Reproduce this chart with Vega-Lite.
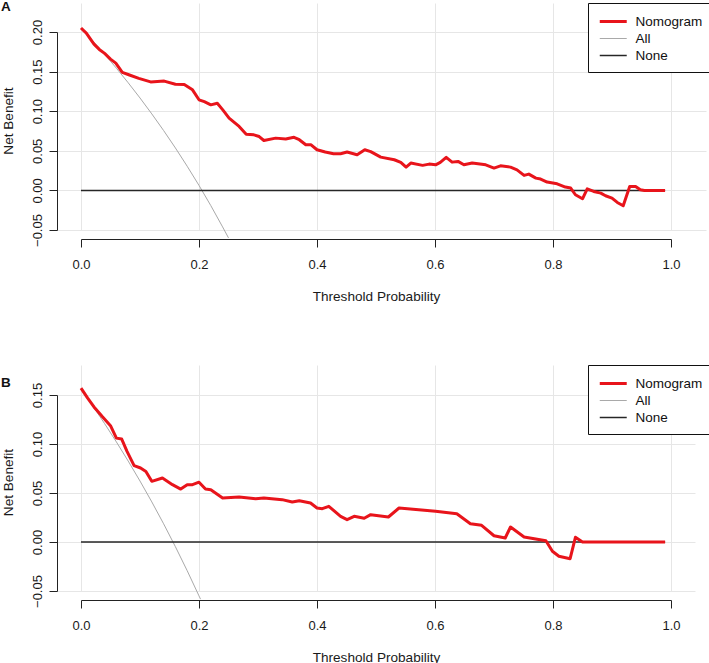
{
  "$schema": "https://vega.github.io/schema/vega-lite/v6.json",
  "padding": {"left": 1, "top": 0, "right": 0, "bottom": 0},
  "bounds": "flush",
  "spacing": 135,
  "resolve": {"scale": {"color": "independent", "strokeWidth": "independent"}, "legend": {"color": "independent", "strokeWidth": "independent"}},
  "config": {
    "view": {"stroke": null},
    "font": "Liberation Sans",
    "axis": {"domainColor": "#222", "tickColor": "#222", "labelColor": "#1a1a1a", "titleColor": "#1a1a1a", "gridColor": "#e6e6e6", "gridWidth": 1, "labelFontSize": 13, "titleFontSize": 13.6, "titleFontWeight": "normal", "tickSize": 8, "labelFont": "Liberation Sans", "titleFont": "Liberation Sans"},
    "legend": {"labelFont": "Liberation Sans", "labelColor": "#111"},
    "title": {"anchor": "start", "frame": "bounds", "fontSize": 13.5, "fontWeight": "bold", "font": "Liberation Sans", "baseline": "top", "offset": 0, "color": "#111"},
    "line": {"strokeJoin": "round", "strokeCap": "butt"}
  },
  "datasets": {
    "A_ref": [
      {"series": "All", "t": 0, "nb": 0.205}, {"series": "All", "t": 0.02, "nb": 0.1888}, {"series": "All", "t": 0.04, "nb": 0.1719}, {"series": "All", "t": 0.06, "nb": 0.1543}, {"series": "All", "t": 0.08, "nb": 0.1359}, {"series": "All", "t": 0.1, "nb": 0.1167}, {"series": "All", "t": 0.12, "nb": 0.0966}, {"series": "All", "t": 0.14, "nb": 0.0756}, {"series": "All", "t": 0.16, "nb": 0.0536}, {"series": "All", "t": 0.18, "nb": 0.0305}, {"series": "All", "t": 0.2, "nb": 0.0063}, {"series": "All", "t": 0.22, "nb": -0.0192}, {"series": "All", "t": 0.24, "nb": -0.0461}, {"series": "All", "t": 0.25, "nb": -0.06},
      {"series": "None", "t": 0, "nb": 0}, {"series": "None", "t": 0.99, "nb": 0}
    ],
    "A_nom": [
      {"series": "Nomogram", "t": 0, "nb": 0.205}, {"series": "Nomogram", "t": 0.009, "nb": 0.1986}, {"series": "Nomogram", "t": 0.022, "nb": 0.1847}, {"series": "Nomogram", "t": 0.031, "nb": 0.178}, {"series": "Nomogram", "t": 0.04, "nb": 0.173}, {"series": "Nomogram", "t": 0.05, "nb": 0.1658}, {"series": "Nomogram", "t": 0.059, "nb": 0.1607}, {"series": "Nomogram", "t": 0.07, "nb": 0.149}, {"series": "Nomogram", "t": 0.081, "nb": 0.146}, {"series": "Nomogram", "t": 0.098, "nb": 0.1414}, {"series": "Nomogram", "t": 0.118, "nb": 0.137}, {"series": "Nomogram", "t": 0.141, "nb": 0.138}, {"series": "Nomogram", "t": 0.16, "nb": 0.134}, {"series": "Nomogram", "t": 0.175, "nb": 0.1338}, {"series": "Nomogram", "t": 0.189, "nb": 0.127}, {"series": "Nomogram", "t": 0.2, "nb": 0.1144}, {"series": "Nomogram", "t": 0.209, "nb": 0.112}, {"series": "Nomogram", "t": 0.22, "nb": 0.108}, {"series": "Nomogram", "t": 0.231, "nb": 0.11}, {"series": "Nomogram", "t": 0.24, "nb": 0.102}, {"series": "Nomogram", "t": 0.251, "nb": 0.0913}, {"series": "Nomogram", "t": 0.268, "nb": 0.0808}, {"series": "Nomogram", "t": 0.28, "nb": 0.071}, {"series": "Nomogram", "t": 0.293, "nb": 0.0702}, {"series": "Nomogram", "t": 0.302, "nb": 0.068}, {"series": "Nomogram", "t": 0.31, "nb": 0.063}, {"series": "Nomogram", "t": 0.33, "nb": 0.066}, {"series": "Nomogram", "t": 0.347, "nb": 0.065}, {"series": "Nomogram", "t": 0.361, "nb": 0.067}, {"series": "Nomogram", "t": 0.37, "nb": 0.064}, {"series": "Nomogram", "t": 0.381, "nb": 0.0576}, {"series": "Nomogram", "t": 0.39, "nb": 0.0576}, {"series": "Nomogram", "t": 0.4, "nb": 0.0513}, {"series": "Nomogram", "t": 0.414, "nb": 0.0484}, {"series": "Nomogram", "t": 0.428, "nb": 0.0462}, {"series": "Nomogram", "t": 0.44, "nb": 0.0462}, {"series": "Nomogram", "t": 0.451, "nb": 0.0484}, {"series": "Nomogram", "t": 0.468, "nb": 0.045}, {"series": "Nomogram", "t": 0.481, "nb": 0.0513}, {"series": "Nomogram", "t": 0.491, "nb": 0.049}, {"series": "Nomogram", "t": 0.508, "nb": 0.042}, {"series": "Nomogram", "t": 0.531, "nb": 0.0387}, {"series": "Nomogram", "t": 0.542, "nb": 0.0354}, {"series": "Nomogram", "t": 0.551, "nb": 0.0294}, {"series": "Nomogram", "t": 0.559, "nb": 0.0345}, {"series": "Nomogram", "t": 0.579, "nb": 0.0316}, {"series": "Nomogram", "t": 0.59, "nb": 0.0332}, {"series": "Nomogram", "t": 0.601, "nb": 0.0323}, {"series": "Nomogram", "t": 0.609, "nb": 0.0354}, {"series": "Nomogram", "t": 0.619, "nb": 0.0417}, {"series": "Nomogram", "t": 0.629, "nb": 0.0357}, {"series": "Nomogram", "t": 0.639, "nb": 0.0366}, {"series": "Nomogram", "t": 0.649, "nb": 0.0323}, {"series": "Nomogram", "t": 0.663, "nb": 0.0345}, {"series": "Nomogram", "t": 0.686, "nb": 0.0323}, {"series": "Nomogram", "t": 0.7, "nb": 0.0282}, {"series": "Nomogram", "t": 0.711, "nb": 0.031}, {"series": "Nomogram", "t": 0.728, "nb": 0.0294}, {"series": "Nomogram", "t": 0.739, "nb": 0.026}, {"series": "Nomogram", "t": 0.751, "nb": 0.0189}, {"series": "Nomogram", "t": 0.759, "nb": 0.0206}, {"series": "Nomogram", "t": 0.771, "nb": 0.0155}, {"series": "Nomogram", "t": 0.779, "nb": 0.0143}, {"series": "Nomogram", "t": 0.79, "nb": 0.0105}, {"series": "Nomogram", "t": 0.807, "nb": 0.0083}, {"series": "Nomogram", "t": 0.821, "nb": 0.0042}, {"series": "Nomogram", "t": 0.83, "nb": 0.003}, {"series": "Nomogram", "t": 0.838, "nb": -0.0055}, {"series": "Nomogram", "t": 0.85, "nb": -0.0106}, {"series": "Nomogram", "t": 0.858, "nb": 0.002}, {"series": "Nomogram", "t": 0.869, "nb": -0.0013}, {"series": "Nomogram", "t": 0.881, "nb": -0.0034}, {"series": "Nomogram", "t": 0.889, "nb": -0.0068}, {"series": "Nomogram", "t": 0.9, "nb": -0.0097}, {"series": "Nomogram", "t": 0.909, "nb": -0.0152}, {"series": "Nomogram", "t": 0.919, "nb": -0.0194}, {"series": "Nomogram", "t": 0.93, "nb": 0.005}, {"series": "Nomogram", "t": 0.94, "nb": 0.005}, {"series": "Nomogram", "t": 0.948, "nb": 0.0008}, {"series": "Nomogram", "t": 0.955, "nb": 0}, {"series": "Nomogram", "t": 0.99, "nb": 0}
    ],
    "B_ref": [
      {"series": "All", "t": 0, "nb": 0.156}, {"series": "All", "t": 0.02, "nb": 0.1388}, {"series": "All", "t": 0.04, "nb": 0.1208}, {"series": "All", "t": 0.06, "nb": 0.1021}, {"series": "All", "t": 0.08, "nb": 0.0826}, {"series": "All", "t": 0.1, "nb": 0.0622}, {"series": "All", "t": 0.12, "nb": 0.0409}, {"series": "All", "t": 0.14, "nb": 0.0186}, {"series": "All", "t": 0.16, "nb": -0.0048}, {"series": "All", "t": 0.18, "nb": -0.0293}, {"series": "All", "t": 0.2, "nb": -0.055}, {"series": "All", "t": 0.2025, "nb": -0.0583},
      {"series": "None", "t": 0, "nb": 0}, {"series": "None", "t": 0.99, "nb": 0}
    ],
    "B_nom": [
      {"series": "Nomogram", "t": 0, "nb": 0.157}, {"series": "Nomogram", "t": 0.011, "nb": 0.147}, {"series": "Nomogram", "t": 0.022, "nb": 0.1378}, {"series": "Nomogram", "t": 0.036, "nb": 0.128}, {"series": "Nomogram", "t": 0.05, "nb": 0.1187}, {"series": "Nomogram", "t": 0.06, "nb": 0.106}, {"series": "Nomogram", "t": 0.069, "nb": 0.105}, {"series": "Nomogram", "t": 0.078, "nb": 0.0925}, {"series": "Nomogram", "t": 0.09, "nb": 0.0779}, {"series": "Nomogram", "t": 0.101, "nb": 0.0755}, {"series": "Nomogram", "t": 0.11, "nb": 0.072}, {"series": "Nomogram", "t": 0.12, "nb": 0.0619}, {"series": "Nomogram", "t": 0.138, "nb": 0.0653}, {"series": "Nomogram", "t": 0.155, "nb": 0.0585}, {"series": "Nomogram", "t": 0.169, "nb": 0.054}, {"series": "Nomogram", "t": 0.18, "nb": 0.0585}, {"series": "Nomogram", "t": 0.189, "nb": 0.0585}, {"series": "Nomogram", "t": 0.2, "nb": 0.061}, {"series": "Nomogram", "t": 0.211, "nb": 0.054}, {"series": "Nomogram", "t": 0.22, "nb": 0.0534}, {"series": "Nomogram", "t": 0.24, "nb": 0.0449}, {"series": "Nomogram", "t": 0.268, "nb": 0.0459}, {"series": "Nomogram", "t": 0.296, "nb": 0.0442}, {"series": "Nomogram", "t": 0.31, "nb": 0.0449}, {"series": "Nomogram", "t": 0.341, "nb": 0.0432}, {"series": "Nomogram", "t": 0.358, "nb": 0.0408}, {"series": "Nomogram", "t": 0.37, "nb": 0.0421}, {"series": "Nomogram", "t": 0.389, "nb": 0.0398}, {"series": "Nomogram", "t": 0.4, "nb": 0.0347}, {"series": "Nomogram", "t": 0.409, "nb": 0.034}, {"series": "Nomogram", "t": 0.42, "nb": 0.0364}, {"series": "Nomogram", "t": 0.44, "nb": 0.0262}, {"series": "Nomogram", "t": 0.451, "nb": 0.0228}, {"series": "Nomogram", "t": 0.463, "nb": 0.0262}, {"series": "Nomogram", "t": 0.48, "nb": 0.0242}, {"series": "Nomogram", "t": 0.491, "nb": 0.0279}, {"series": "Nomogram", "t": 0.521, "nb": 0.0255}, {"series": "Nomogram", "t": 0.539, "nb": 0.0347}, {"series": "Nomogram", "t": 0.601, "nb": 0.0313}, {"series": "Nomogram", "t": 0.637, "nb": 0.0289}, {"series": "Nomogram", "t": 0.66, "nb": 0.0187}, {"series": "Nomogram", "t": 0.679, "nb": 0.017}, {"series": "Nomogram", "t": 0.7, "nb": 0.0064}, {"series": "Nomogram", "t": 0.719, "nb": 0.0041}, {"series": "Nomogram", "t": 0.728, "nb": 0.0153}, {"series": "Nomogram", "t": 0.751, "nb": 0.0051}, {"series": "Nomogram", "t": 0.788, "nb": 0.0013}, {"series": "Nomogram", "t": 0.799, "nb": -0.0095}, {"series": "Nomogram", "t": 0.81, "nb": -0.0146}, {"series": "Nomogram", "t": 0.829, "nb": -0.017}, {"series": "Nomogram", "t": 0.838, "nb": 0.0048}, {"series": "Nomogram", "t": 0.85, "nb": 0}, {"series": "Nomogram", "t": 0.99, "nb": 0}
    ]
  },
  "vconcat": [
    {
      "title": {"text": "A", "dy": 15},
      "width": 649,
      "height": 227,
      "resolve": {"scale": {"x": "independent", "y": "independent"}, "axis": {"x": "independent", "y": "independent"}},
      "layer": [
        {
          "data": {"name": "A_ref"},
          "mark": {"type": "line", "clip": false},
          "encoding": {
            "x": {"field": "t", "type": "quantitative", "scale": {"domain": [-0.040678, 1.059322], "nice": false, "zero": false}, "axis": {"orient": "bottom", "grid": true, "values": [0, 0.2, 0.4, 0.6, 0.8, 1], "domain": false, "ticks": false, "labels": false, "title": null}},
            "y": {"field": "nb", "type": "quantitative", "scale": {"domain": [-0.05, 0.23662], "nice": false, "zero": false}, "axis": {"orient": "left", "grid": true, "values": [-0.05, 0, 0.05, 0.1, 0.15, 0.2], "domain": false, "ticks": false, "labels": false, "title": null}},
            "color": {"field": "series", "type": "nominal", "title": null, "scale": {"domain": ["Nomogram", "All", "None"], "range": ["#e8141b", "#a9a9a9", "#262626"]}, "legend": {"title": null, "orient": "none", "legendX": 531, "legendY": 0, "symbolType": "M-1,0H3", "symbolSize": 182, "labelOffset": 20.5, "padding": 10, "rowPadding": 3, "strokeColor": "#111", "fillColor": "#fff", "labelFontSize": 13.5, "cornerRadius": 0}},
            "strokeWidth": {"field": "series", "type": "nominal", "title": null, "scale": {"type": "ordinal", "domain": ["Nomogram", "All", "None"], "range": [3, 1, 1.5]}, "legend": {"title": null, "orient": "none", "legendX": 531, "legendY": 0, "symbolType": "M-1,0H3", "symbolSize": 182, "labelOffset": 20.5, "padding": 10, "rowPadding": 3, "strokeColor": "#111", "fillColor": "#fff", "labelFontSize": 13.5, "cornerRadius": 0}}
          }
        },
        {
          "data": {"name": "A_nom"},
          "mark": {"type": "line", "clip": false},
          "encoding": {
            "x": {"field": "t", "type": "quantitative", "scale": {"domain": [0, 1], "range": [24, 614], "nice": false, "zero": false}, "axis": {"orient": "bottom", "grid": false, "values": [0, 0.2, 0.4, 0.6, 0.8, 1], "format": ".1f", "offset": 9, "labelPadding": 11, "labelFlush": false, "labelOverlap": false, "title": "Threshold Probability", "titlePadding": 18}},
            "y": {"field": "nb", "type": "quantitative", "scale": {"domain": [-0.05, 0.2], "range": [227, 29], "nice": false, "zero": false}, "axis": {"orient": "left", "grid": false, "values": [-0.05, 0, 0.05, 0.1, 0.15, 0.2], "format": ".2f", "labelAngle": 270, "labelAlign": "center", "labelBaseline": "bottom", "labelPadding": 5, "labelFlush": false, "labelOverlap": false, "title": "Net Benefit", "titlePadding": 16, "titleY": 117.5}},
            "color": {"field": "series", "type": "nominal", "title": null, "scale": {"domain": ["Nomogram", "All", "None"], "range": ["#e8141b", "#a9a9a9", "#262626"]}},
            "strokeWidth": {"field": "series", "type": "nominal", "title": null, "scale": {"type": "ordinal", "domain": ["Nomogram", "All", "None"], "range": [3, 1, 1.5]}}
          }
        }
      ]
    },
    {
      "title": {"text": "B", "dy": 29},
      "width": 638,
      "height": 226,
      "resolve": {"scale": {"x": "independent", "y": "independent"}, "axis": {"x": "independent", "y": "independent"}},
      "layer": [
        {
          "data": {"name": "B_ref"},
          "mark": {"type": "line", "clip": false},
          "encoding": {
            "x": {"field": "t", "type": "quantitative", "scale": {"domain": [-0.040678, 1.040678], "nice": false, "zero": false}, "axis": {"orient": "bottom", "grid": true, "values": [0, 0.2, 0.4, 0.6, 0.8, 1], "domain": false, "ticks": false, "labels": false, "title": null}},
            "y": {"field": "nb", "type": "quantitative", "scale": {"domain": [-0.05, 0.180612], "nice": false, "zero": false}, "axis": {"orient": "left", "grid": true, "values": [-0.05, 0, 0.05, 0.1, 0.15], "domain": false, "ticks": false, "labels": false, "title": null}},
            "color": {"field": "series", "type": "nominal", "title": null, "scale": {"domain": ["Nomogram", "All", "None"], "range": ["#e8141b", "#a9a9a9", "#262626"]}, "legend": {"title": null, "orient": "none", "legendX": 531, "legendY": 0, "symbolType": "M-1,0H3", "symbolSize": 182, "labelOffset": 20.5, "padding": 10, "rowPadding": 3, "strokeColor": "#111", "fillColor": "#fff", "labelFontSize": 13.5, "cornerRadius": 0}},
            "strokeWidth": {"field": "series", "type": "nominal", "title": null, "scale": {"type": "ordinal", "domain": ["Nomogram", "All", "None"], "range": [3, 1, 1.5]}, "legend": {"title": null, "orient": "none", "legendX": 531, "legendY": 0, "symbolType": "M-1,0H3", "symbolSize": 182, "labelOffset": 20.5, "padding": 10, "rowPadding": 3, "strokeColor": "#111", "fillColor": "#fff", "labelFontSize": 13.5, "cornerRadius": 0}}
          }
        },
        {
          "data": {"name": "B_nom"},
          "mark": {"type": "line", "clip": false},
          "encoding": {
            "x": {"field": "t", "type": "quantitative", "scale": {"domain": [0, 1], "range": [24, 614], "nice": false, "zero": false}, "axis": {"orient": "bottom", "grid": false, "values": [0, 0.2, 0.4, 0.6, 0.8, 1], "format": ".1f", "offset": 9, "labelPadding": 11, "labelFlush": false, "labelOverlap": false, "title": "Threshold Probability", "titlePadding": 18}},
            "y": {"field": "nb", "type": "quantitative", "scale": {"domain": [-0.05, 0.15], "range": [226, 30], "nice": false, "zero": false}, "axis": {"orient": "left", "grid": false, "values": [-0.05, 0, 0.05, 0.1, 0.15], "format": ".2f", "labelAngle": 270, "labelAlign": "center", "labelBaseline": "bottom", "labelPadding": 5, "labelFlush": false, "labelOverlap": false, "title": "Net Benefit", "titlePadding": 16, "titleY": 117}},
            "color": {"field": "series", "type": "nominal", "title": null, "scale": {"domain": ["Nomogram", "All", "None"], "range": ["#e8141b", "#a9a9a9", "#262626"]}},
            "strokeWidth": {"field": "series", "type": "nominal", "title": null, "scale": {"type": "ordinal", "domain": ["Nomogram", "All", "None"], "range": [3, 1, 1.5]}}
          }
        }
      ]
    }
  ]
}
